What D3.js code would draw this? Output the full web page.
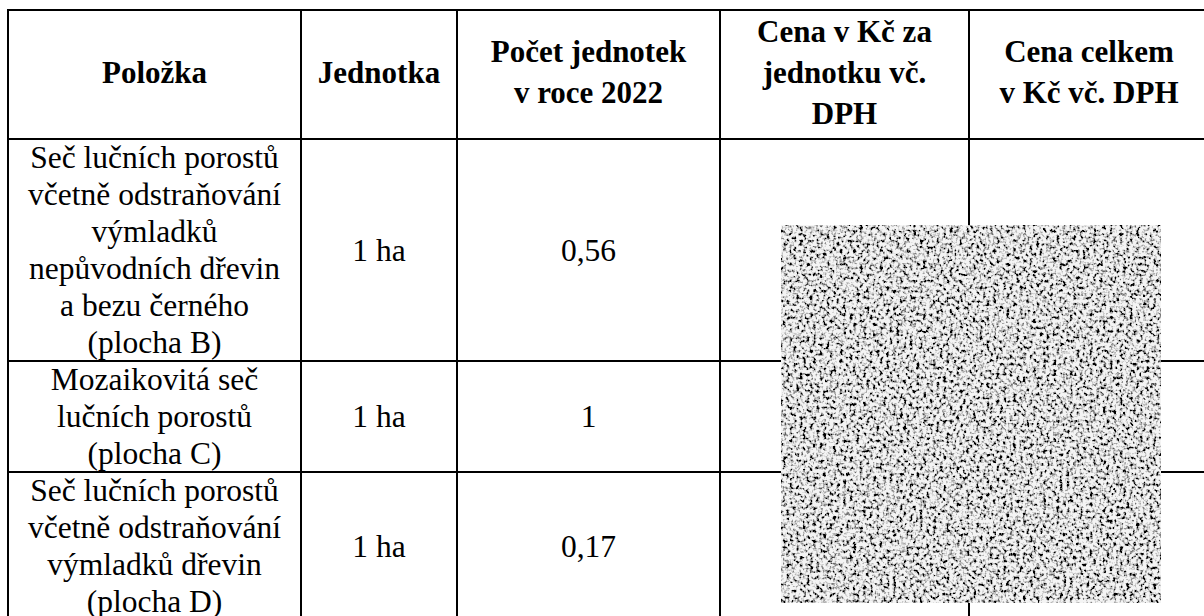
<!DOCTYPE html>
<html>
<head>
<meta charset="utf-8">
<script src="https://cdn.jsdelivr.net/npm/d3@7"></script>
<style>
  html, body { margin: 0; padding: 0; background: #fff; }
  svg { display: block; }
</style>
</head>
<body>
<svg id="chart" width="1204" height="616"></svg>
<script>
// ---- data ----
const headers = [
  "Položka",
  "Jednotka",
  "Počet jednotek\nv roce 2022",
  "Cena v Kč za\njednotku vč.\nDPH",
  "Cena celkem\nv Kč vč. DPH"
];
const items = [
  "Seč lučních porostů\nvčetně odstraňování\nvýmladků\nnepůvodních dřevin\na bezu černého\n(plocha B)",
  "Mozaikovitá seč\nlučních porostů\n(plocha C)",
  "Seč lučních porostů\nvčetně odstraňování\nvýmladků dřevin\n(plocha D)"
];
const units = ["1 ha", "1 ha", "1 ha"];
const counts = ["0,56", "1", "0,17"];
const unitPrices = ["", "", ""];
const totals = ["", "", ""];

// ---- layout ----
const colEdges = [8, 301, 457, 720, 969, 1209];
const headerTop = 10, headerBottom = 139;
const bodyLineH = 37;
const headLineH = 41;
const bodyFont = 31.5, headFont = 31;
const FONT = "Liberation Serif";

const svg = d3.select("#chart");

const x = d3.scaleLinear().domain(d3.range(colEdges.length)).range(colEdges);

const rowLines = items.map(s => s.split("\n").length);
const rowEdges = [headerTop, headerBottom];
rowLines.forEach(n => rowEdges.push(rowEdges[rowEdges.length - 1] + n * bodyLineH));
const y = d3.scaleLinear().domain(d3.range(rowEdges.length)).range(rowEdges);

const rows = items.map((it, i) => [it, units[i], counts[i], unitPrices[i], totals[i]]);

function drawCell(g, text, cx, cy, fs, lh, bold, shift) {
  const lines = text.split("\n");
  lines.forEach((ln, k) => {
    g.append("text")
      .attr("x", cx)
      .attr("y", cy + (k - (lines.length - 1) / 2) * lh + fs * shift)
      .attr("text-anchor", "middle")
      .attr("font-family", FONT)
      .style("font-family", "'" + FONT + "'")
      .attr("font-size", fs)
      .attr("font-weight", bold ? "bold" : "normal")
      .attr("fill", "#000")
      .text(ln);
  });
}

const gText = svg.append("g");
headers.forEach((h, j) => {
  drawCell(gText, h, (x(j) + x(j + 1)) / 2, (y(0) + y(1)) / 2, headFont, headLineH, true, 0.27);
});
rows.forEach((r, i) => {
  r.forEach((v, j) => {
    if (v === "") return;
    drawCell(gText, v, (x(j) + x(j + 1)) / 2, (y(i + 1) + y(i + 2)) / 2, bodyFont, bodyLineH, false, 0.34);
  });
});

// grid lines
const gLines = svg.append("g").attr("stroke", "#000").attr("stroke-width", 2).attr("shape-rendering", "crispEdges");
d3.range(rowEdges.length).forEach(i => {
  gLines.append("line").attr("x1", x(0) - 1).attr("x2", x(colEdges.length - 1) + 1)
    .attr("y1", y(i)).attr("y2", y(i));
});
d3.range(colEdges.length).forEach(j => {
  gLines.append("line").attr("x1", x(j)).attr("x2", x(j))
    .attr("y1", y(0) - 1).attr("y2", y(rowEdges.length - 1) + 1);
});

// noise overlay (redaction square)
const defs = svg.append("defs");
const f = defs.append("filter").attr("id", "noise")
  .attr("x", 0).attr("y", 0).attr("width", "100%").attr("height", "100%");
f.append("feTurbulence").attr("type", "fractalNoise").attr("baseFrequency", 0.3)
  .attr("numOctaves", 2).attr("seed", 3).attr("result", "t");
f.append("feColorMatrix").attr("in", "t").attr("type", "matrix")
  .attr("values", "0 0 0 0 0  0 0 0 0 0  0 0 0 0 0  -4 0 0 0 2.2")
  .attr("result", "m");
f.append("feGaussianBlur").attr("in", "m").attr("stdDeviation", 0.5).attr("result", "b");
f.append("feComposite").attr("in", "b").attr("in2", "SourceGraphic").attr("operator", "over");
svg.append("rect")
  .attr("x", 781).attr("y", 225).attr("width", 380).attr("height", 378)
  .attr("fill", "#f4f4f4")
  .attr("filter", "url(#noise)");
</script>
</body>
</html>
